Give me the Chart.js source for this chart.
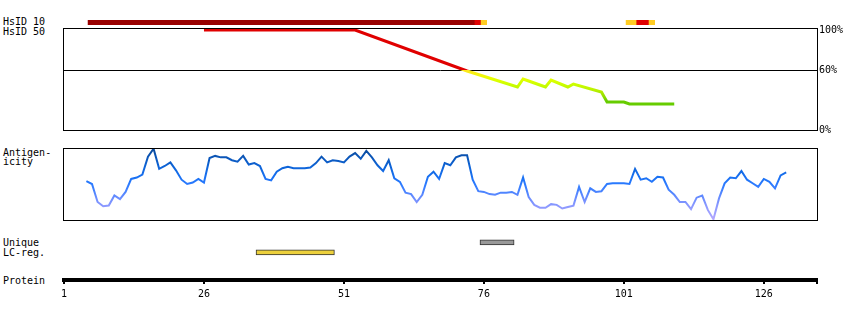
<!DOCTYPE html>
<html lang="en">
<head>
<meta charset="UTF-8" />
<title>Protein antigen profile</title>
<script src="https://cdn.jsdelivr.net/npm/chart.js"></script>
<style>
  html, body { margin: 0; padding: 0; background: #fff; }
  #wrap { position: relative; width: 850px; height: 320px; overflow: hidden; }
  #wrap canvas { position: absolute; left: 0; }
  .lbl { position: absolute; left: 3px; font: 10px/10px 'DejaVu Sans Mono', monospace; color: #000; white-space: pre; }
</style>
</head>
<body>
<div id="wrap">
  <div class="lbl" style="top:17px">HsID 10</div>
  <div class="lbl" style="top:27px">HsID 50</div>
  <div class="lbl" style="top:148px">Antigen-</div>
  <div class="lbl" style="top:157px">icity</div>
  <div class="lbl" style="top:238px">Unique</div>
  <div class="lbl" style="top:248px">LC-reg.</div>
  <div class="lbl" style="top:276px">Protein</div>

  <canvas id="hsid10" width="850" height="30" style="top:0px"></canvas>
  <canvas id="hsid50" width="850" height="140" style="top:0px"></canvas>
  <canvas id="antigen" width="850" height="90" style="top:140px"></canvas>
  <canvas id="regions" width="850" height="30" style="top:230px"></canvas>
  <canvas id="protein" width="850" height="55" style="top:265px"></canvas>
</div>

<script>
  // residue axis
  const proteinTicks = [1, 26, 51, 76, 101, 126];
  const proteinEnd = 135.5;

  // HsID 10 blocks (residue ranges + identity class)
  const hsid10Start = [5.3, 74.4, 75.5, 101.4, 103.3, 105.5];
  const hsid10End   = [74.4, 75.5, 76.5, 103.3, 105.5, 106.5];
  const hsid10Class = ['high', 'mid', 'low', 'low', 'mid', 'low'];

  // HsID 50 identity curve (%)
  const hsid50Residues = [26, 53, 73, 82, 83, 84, 85, 86, 87, 88, 91, 92, 97, 98, 101, 102, 110];
  const hsid50Values   = [100, 100, 59, 43, 51, 49, 47, 45, 43, 50, 43, 46, 38, 28, 28, 26, 26];
  const hsidTicks = [0, 60, 100];

  // antigenicity, one value per residue starting at residue 5
  const antigenFirstResidue = 5;
  const antigenValues = [
    0.54, 0.50, 0.25, 0.19, 0.20, 0.34, 0.29, 0.39, 0.57, 0.59,
    0.63, 0.88, 0.99, 0.71, 0.75, 0.80, 0.69, 0.56, 0.50, 0.52,
    0.57, 0.52, 0.86, 0.89, 0.87, 0.87, 0.83, 0.81, 0.89, 0.77,
    0.79, 0.75, 0.57, 0.55, 0.67, 0.72, 0.74, 0.72, 0.72, 0.72,
    0.73, 0.79, 0.88, 0.80, 0.83, 0.82, 0.80, 0.88, 0.93, 0.85,
    0.96, 0.87, 0.76, 0.68, 0.83, 0.58, 0.53, 0.38, 0.36, 0.25,
    0.35, 0.60, 0.67, 0.57, 0.79, 0.76, 0.87, 0.90, 0.90, 0.56,
    0.40, 0.39, 0.36, 0.35, 0.38, 0.38, 0.39, 0.35, 0.59, 0.32,
    0.21, 0.17, 0.17, 0.22, 0.21, 0.16, 0.18, 0.20, 0.46, 0.25,
    0.44, 0.39, 0.40, 0.50, 0.51, 0.51, 0.51, 0.50, 0.71, 0.56,
    0.58, 0.53, 0.60, 0.59, 0.42, 0.35, 0.25, 0.25, 0.15, 0.31,
    0.34, 0.14, 0.01, 0.30, 0.51, 0.59, 0.58, 0.68, 0.56, 0.51,
    0.46, 0.57, 0.53, 0.44, 0.62, 0.66
  ];

  // feature regions
  const regionLabels = ['Unique', 'LC-reg.'];
  const regionStart = [75.3, 35.3];
  const regionEnd   = [81.4, 49.3];

  const hsid10Colors = { high: '#990000', mid: '#e00000', low: '#ffcc22' };
  const regionColors = ['#999999', '#ecd03c'];
  const hsidStops = [[102, '#e00000'], [60, '#e00000'], [59.9, '#ffe61e'], [52, '#eaff00'],
                     [46, '#ccff00'], [40, '#bbf200'], [33, '#8fdc00'], [29, '#66cc00'], [0, '#66cc00']];
  const antigenStops = [[1, '#0a4896'], [0.88, '#0b55b6'], [0.75, '#0d63d6'], [0.6, '#1870f2'],
                        [0.5, '#2a7aff'], [0.4, '#4883ff'], [0.3, '#6c8dff'], [0.2, '#8a98ff'],
                        [0.1, '#9ea0ff'], [0, '#b6a8ff']];

  const monoFont = { family: "'DejaVu Sans Mono', monospace", size: 10 };

  const base = {
    responsive: false,
    animation: false,
    devicePixelRatio: 1,
    plugins: { legend: { display: false }, tooltip: { enabled: false } }
  };
  const hiddenX = { type: 'linear', min: 1, max: proteinEnd, display: false };

  const boxPlugin = {
    id: 'box',
    afterDatasetsDraw(chart) {
      const { ctx, chartArea: a } = chart;
      ctx.save();
      ctx.strokeStyle = '#000';
      ctx.lineWidth = 1;
      ctx.strokeRect(a.left - 0.5, a.top + 0.5, a.right - a.left + 1, a.bottom - a.top);
      ctx.restore();
    }
  };

  function valueGradient(chart, stops) {
    const { ctx, chartArea, scales } = chart;
    if (!chartArea) return '#000';
    const y = scales.y;
    const g = ctx.createLinearGradient(0, y.getPixelForValue(y.max), 0, y.getPixelForValue(y.min));
    stops.forEach(([v, c]) => {
      const pos = Math.min(1, Math.max(0, (y.max - v) / (y.max - y.min)));
      g.addColorStop(pos, c);
    });
    return g;
  }

  // HsID 10
  new Chart(document.getElementById('hsid10'), {
    type: 'bar',
    data: {
      labels: ['HsID 10'],
      datasets: [{
        data: hsid10Start.map((s, i) => ({ x: [s, hsid10End[i]], y: 'HsID 10' })),
        backgroundColor: hsid10Class.map(k => hsid10Colors[k]),
        borderWidth: 0,
        barThickness: 5
      }]
    },
    options: {
      ...base,
      indexAxis: 'y',
      layout: { padding: { left: 64, right: 33, top: 20, bottom: 5 } },
      scales: { x: hiddenX, y: { type: 'category', display: false } }
    }
  });

  // HsID 50
  new Chart(document.getElementById('hsid50'), {
    type: 'line',
    data: {
      datasets: [{
        data: hsid50Residues.map((r, i) => ({ x: r, y: hsid50Values[i] })),
        borderColor: c => valueGradient(c.chart, hsidStops),
        borderWidth: 3,
        borderCapStyle: 'butt',
        pointRadius: 0,
        tension: 0
      }]
    },
    options: {
      ...base,
      layout: { padding: { left: 64, right: 0, top: 28, bottom: 10 } },
      scales: {
        x: hiddenX,
        y: {
          min: 0, max: 102, position: 'right',
          afterBuildTicks: s => { s.ticks = hsidTicks.map(v => ({ value: v })); },
          afterFit: s => { s.width = 33; },
          ticks: { callback: v => v + '%', font: monoFont, color: '#000', padding: 2, autoSkip: false },
          grid: {
            drawTicks: false,
            lineWidth: 1,
            color: c => (c.tick && c.tick.value === 60) ? '#000' : 'rgba(0,0,0,0)'
          },
          border: { display: false }
        }
      }
    },
    plugins: [boxPlugin]
  });

  // Antigenicity
  new Chart(document.getElementById('antigen'), {
    type: 'line',
    data: {
      datasets: [{
        data: antigenValues.map((v, i) => ({ x: antigenFirstResidue + i, y: v })),
        borderColor: c => valueGradient(c.chart, antigenStops),
        borderWidth: 2,
        pointRadius: 0,
        tension: 0
      }]
    },
    options: {
      ...base,
      layout: { padding: { left: 64, right: 33, top: 8, bottom: 10 } },
      scales: { x: hiddenX, y: { min: 0, max: 1, display: false } }
    },
    plugins: [boxPlugin]
  });

  // Unique / LC regions
  new Chart(document.getElementById('regions'), {
    type: 'bar',
    data: {
      labels: regionLabels,
      datasets: [{
        data: regionStart.map((s, i) => ({ x: [s, regionEnd[i]], y: regionLabels[i] })),
        backgroundColor: regionColors,
        borderColor: '#333',
        borderWidth: 1,
        borderSkipped: false,
        barThickness: 5
      }]
    },
    options: {
      ...base,
      indexAxis: 'y',
      layout: { padding: { left: 64, right: 33, top: 7.3, bottom: 2.7 } },
      scales: { x: hiddenX, y: { type: 'category', display: false } }
    }
  });

  // Protein residue axis
  new Chart(document.getElementById('protein'), {
    type: 'line',
    data: { datasets: [] },
    options: {
      ...base,
      layout: { padding: { left: 64, right: 33, top: 10, bottom: 0 } },
      scales: {
        x: {
          type: 'linear', min: 1, max: proteinEnd, position: 'bottom',
          afterBuildTicks: s => { s.ticks = proteinTicks.concat(proteinEnd).map(v => ({ value: v })); },
          afterFit: s => { s.height = 40; },
          ticks: {
            autoSkip: false, maxRotation: 0, padding: 4, font: monoFont, color: '#000',
            callback: v => proteinTicks.includes(v) ? String(v) : ''
          },
          grid: { drawOnChartArea: false, tickLength: 4, color: '#000', lineWidth: 2 },
          border: { display: true, color: '#000', width: 4 }
        },
        y: { display: false }
      }
    }
  });
</script>
</body>
</html>
